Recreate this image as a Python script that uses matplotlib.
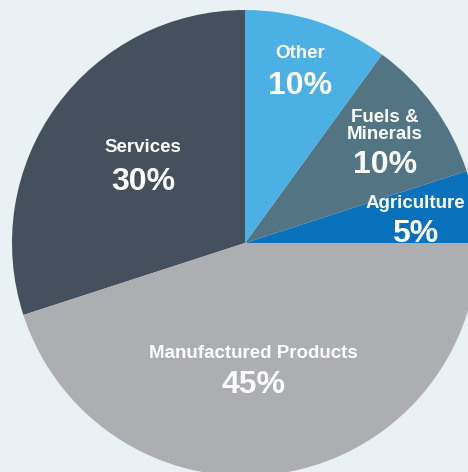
import matplotlib
matplotlib.use("Agg")
import matplotlib.pyplot as plt
from matplotlib import font_manager

categories = ["Agriculture", "Fuels &\nMinerals", "Other", "Services", "Manufactured Products"]
values = [5, 10, 10, 30, 45]
pct_labels = ["5%", "10%", "10%", "30%", "45%"]
colors = ["#0a71bd", "#537583", "#4bb0e3", "#45505e", "#adaeb1"]

names = {f.name for f in font_manager.fontManager.ttflist}
fam = ["Liberation Sans Narrow", "DejaVu Sans"] if "Liberation Sans Narrow" in names else ["Liberation Sans", "DejaVu Sans"]

W, H = 468, 472
fig = plt.figure(figsize=(W / 100, H / 100), dpi=100)
fig.patch.set_facecolor("#e9f1f5")
ax = fig.add_axes([0, 0, 1, 1])
ax.set_facecolor("#e9f1f5")

cx, cy, r = 245, H - 243, 233
ax.pie(values, colors=colors, startangle=0, counterclock=True,
       center=(cx, cy), radius=r, frame=True,
       wedgeprops=dict(linewidth=0))
ax.set_xlim(0, W)
ax.set_ylim(0, H)
ax.axis("off")

# label positions (pixel coords from top-left)
label_pos = [(415, 203), (385, 126), (300, 54), (143, 148), (253, 354)]
pct_pos = [(415, 234), (385, 165), (300, 86), (143, 182), (253, 385)]

for name, p, (lx, ly), (px, py) in zip(categories, pct_labels, label_pos, pct_pos):
    ax.text(lx, H - ly, name, ha="center", va="center", color="white",
            fontsize=13.5, fontweight="bold", family=fam, linespacing=1.0)
    ax.text(px, H - py, p, ha="center", va="center", color="white",
            fontsize=23, fontweight="bold", family=fam)

fig.savefig("out.png", dpi=100, facecolor=fig.get_facecolor())
